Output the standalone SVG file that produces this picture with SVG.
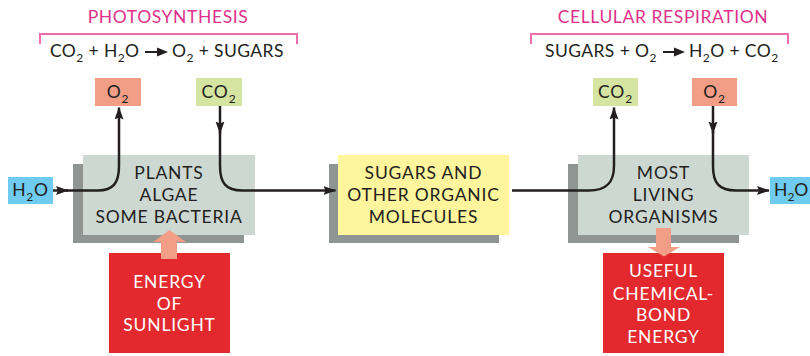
<svg xmlns="http://www.w3.org/2000/svg" width="810" height="356" viewBox="0 0 810 356">
<style>
text{font-family:Lato,"Open Sans","Liberation Sans",sans-serif;fill:#231f20;font-size:17.5px;letter-spacing:0.8px}
.c{text-anchor:middle}
.w{fill:#ffffff}
.t{fill:#e0318a;font-size:17.5px;letter-spacing:0.6px}
.eq{letter-spacing:0.4px}
.s{font-size:12px}
.shadow{fill:#8e9592}
.grey{fill:#cdd8d3}
.yel{fill:#fff59c}
.red{fill:#e3292d}
.o2{fill:#f29e87}
.co2{fill:#d6e4a2}
.h2o{fill:#6fcbef}
.pink{fill:#f29e87}
.br{fill:none;stroke:#ef6ea9;stroke-width:2}
.ln{fill:none;stroke:#231f20;stroke-width:2.5}
</style>
<defs>
<marker id="ah" markerUnits="userSpaceOnUse" markerWidth="14" markerHeight="10" refX="12" refY="4.5" orient="auto" viewBox="0 0 14 10">
<path d="M0,0 L12.5,4.5 L0,9 L2,4.5 z" fill="#231f20"/>
</marker>
</defs>

<g id="photosynthesis-title">
<text class="t c" x="168" y="23">PHOTOSYNTHESIS</text>
<path class="br" d="M40,44 V34 H297 V44"/>
<text class="eq" x="50" y="57">CO<tspan class="s" dy="5">2</tspan><tspan dy="-5"> + H</tspan><tspan class="s" dy="5">2</tspan><tspan dy="-5">O</tspan></text>
<path d="M145,52 H160" stroke="#231f20" stroke-width="2"/>
<path d="M157,47.5 L168,52 L157,56.5 z" fill="#231f20"/>
<text class="eq" x="172" y="57">O<tspan class="s" dy="5">2</tspan><tspan dy="-5"> + SUGARS</tspan></text>
</g>

<g id="respiration-title">
<text class="t c" x="663" y="23">CELLULAR RESPIRATION</text>
<path class="br" d="M531,44 V34 H788 V44"/>
<text class="eq" x="545" y="57">SUGARS + O<tspan class="s" dy="5">2</tspan></text>
<path d="M663,52 H677" stroke="#231f20" stroke-width="2"/>
<path d="M674,47.5 L685,52 L674,56.5 z" fill="#231f20"/>
<text class="eq" x="689" y="57">H<tspan class="s" dy="5">2</tspan><tspan dy="-5">O + CO</tspan><tspan class="s" dy="5">2</tspan></text>
</g>

<g id="o2-left">
<rect class="o2" x="95" y="78" width="46" height="28"/>
<text class="c" x="118" y="98">O<tspan class="s" dy="5">2</tspan></text>
</g>
<g id="co2-left">
<rect class="co2" x="196" y="78" width="46" height="28"/>
<text class="c" x="219" y="98">CO<tspan class="s" dy="5">2</tspan></text>
</g>
<g id="co2-right">
<rect class="co2" x="593" y="78" width="45" height="28"/>
<text class="c" x="615.5" y="98">CO<tspan class="s" dy="5">2</tspan></text>
</g>
<g id="o2-right">
<rect class="o2" x="692" y="78" width="45" height="28"/>
<text class="c" x="714.5" y="98">O<tspan class="s" dy="5">2</tspan></text>
</g>

<g id="h2o-left">
<rect class="h2o" x="8" y="177" width="45" height="27"/>
<text class="c" x="30.5" y="196">H<tspan class="s" dy="5">2</tspan><tspan dy="-5">O</tspan></text>
</g>
<g id="h2o-right">
<rect class="h2o" x="770" y="177" width="45" height="27"/>
<text x="774" y="196" style="letter-spacing:0">H<tspan class="s" dy="5">2</tspan><tspan dy="-5">O</tspan></text>
</g>

<g id="plants">
<rect class="shadow" x="73" y="164" width="171" height="79"/>
<rect class="grey" x="83" y="155" width="172" height="80"/>
<text class="c" x="169" y="179">PLANTS</text>
<text class="c" x="169" y="201">ALGAE</text>
<text class="c" x="169" y="223">SOME BACTERIA</text>
</g>

<g id="sugars">
<rect class="shadow" x="329" y="164" width="170" height="79"/>
<rect class="yel" x="338" y="155" width="171" height="80"/>
<text class="c" x="423.5" y="179">SUGARS AND</text>
<text class="c" x="423.5" y="201">OTHER ORGANIC</text>
<text class="c" x="423.5" y="222.5">MOLECULES</text>
</g>

<g id="organisms">
<rect class="shadow" x="568" y="164" width="171" height="79"/>
<rect class="grey" x="578" y="155" width="171" height="80"/>
<text class="c" x="663.5" y="179">MOST</text>
<text class="c" x="663.5" y="201">LIVING</text>
<text class="c" x="663.5" y="222.5">ORGANISMS</text>
</g>

<g id="sunlight">
<rect class="red" x="109" y="253" width="121" height="100"/>
<text class="c w" x="169.5" y="288">ENERGY</text>
<text class="c w" x="169.5" y="310">OF</text>
<text class="c w" x="169.5" y="331">SUNLIGHT</text>
</g>

<g id="chemical-energy">
<rect class="red" x="603" y="253" width="121" height="100"/>
<text class="c w" x="663.5" y="277">USEFUL</text>
<text class="c w" x="663.5" y="299.5">CHEMICAL-</text>
<text class="c w" x="663.5" y="321">BOND</text>
<text class="c w" x="663.5" y="342.5">ENERGY</text>
</g>

<g id="connectors">
<path class="ln" d="M53,190.5 H68" marker-end="url(#ah)"/>
<path class="ln" d="M66,190.5 H98 C113,190.5 119,183 119,166 V107.5" marker-end="url(#ah)"/>
<path class="ln" d="M220,106 V133.5" marker-end="url(#ah)"/>
<path class="ln" d="M220,131 V166 C220,183 226,190.5 242,190.5 H335.5" marker-end="url(#ah)"/>
<path class="ln" d="M512,190.5 H589 C606,190.5 614,183 614,166 V107.5" marker-end="url(#ah)"/>
<path class="ln" d="M713,106 V133.5" marker-end="url(#ah)"/>
<path class="ln" d="M713,131 V166 C713,183 719,190.5 736,190.5 H769" marker-end="url(#ah)"/>
<path class="pink" d="M161,259 V242 H153 L169.5,230 L186,242 H177 V259 z"/>
<path class="pink" d="M656,228 V247 H648 L664,256.5 L680,247 H671 V228 z"/>
</g>
</svg>
